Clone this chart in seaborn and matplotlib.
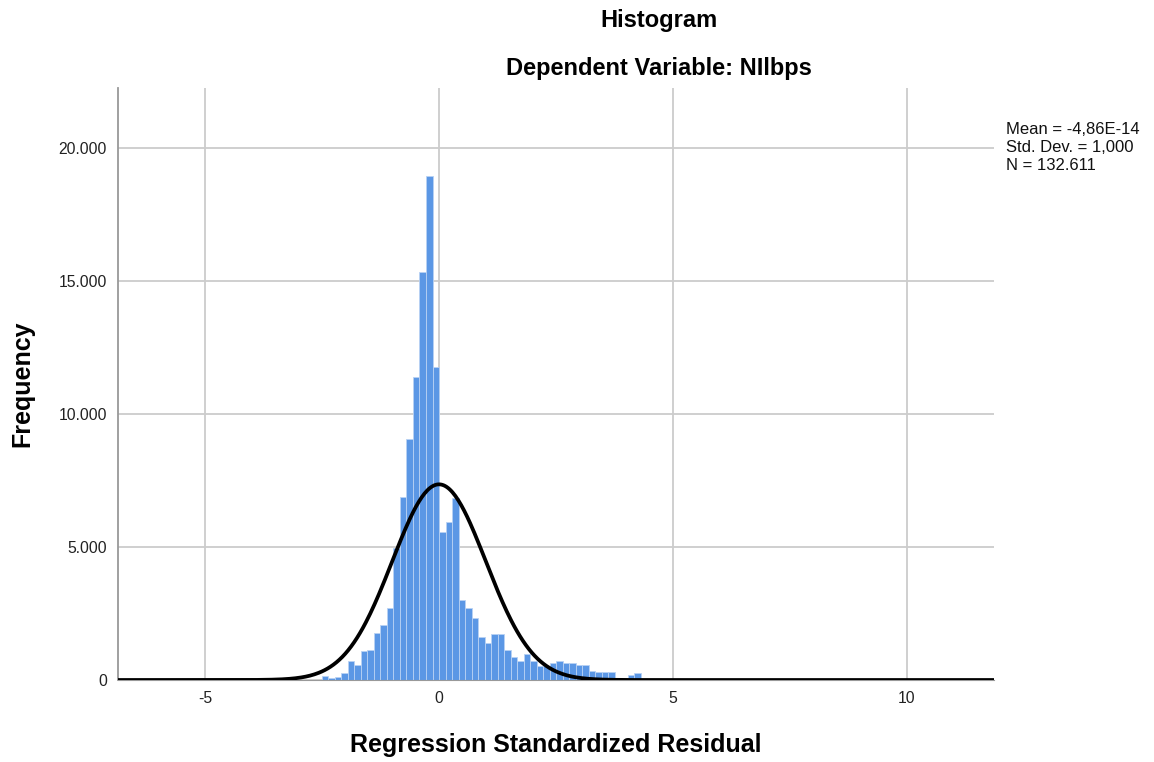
import numpy as np
import pandas as pd
import matplotlib
matplotlib.use("Agg")
import matplotlib.pyplot as plt
from matplotlib.ticker import FuncFormatter
import seaborn as sns

# ── data ─────────────────────────────────────────────────────────────
bin_width = 0.139
first_edge = -18 * bin_width          # left edge of first bar
counts = [140, 85, 125, 275, 730, 580, 1090, 1120, 1750, 2080, 2700, 4960,
          6870, 9050, 11380, 15350, 18960, 11760,
          5550, 5920, 6850, 3010, 2720, 2330, 1610, 1380, 1730, 1730, 1130,
          860, 715, 980, 700, 540, 540, 650, 700, 650, 650, 580, 580, 350,
          290, 310, 290, 0, 0, 200, 250]
res_mean = -4.86e-14
res_sd = 1.0
n_obs = 132611
x_ticks = [-5, 0, 5, 10]
y_ticks = [0, 5000, 10000, 15000, 20000]

sns.set_style("white")
plt.rcParams["font.family"] = ["Liberation Sans", "DejaVu Sans"]
plt.rcParams["axes.unicode_minus"] = False

n_bins = len(counts)
centers = first_edge + bin_width * (np.arange(n_bins) + 0.5)
df = pd.DataFrame({"resid": centers, "count": counts})

fig = plt.figure(figsize=(11.54, 7.62), dpi=100)
ax = fig.add_axes([118 / 1154, 1 - 680 / 762, 876 / 1154, 592 / 762])

ax.grid(True, color="#cccccc", linewidth=1.3, zorder=0)
ax.set_axisbelow(True)

sns.histplot(data=df, x="resid", weights="count", bins=n_bins,
             binrange=(first_edge, first_edge + n_bins * bin_width),
             color="#5b97e5", alpha=1.0, edgecolor="#b8d2f4", linewidth=0.6,
             ax=ax, zorder=2)

# fitted normal curve (SPSS overlay)
xs = np.linspace(-6.9, 11.9, 600)
ys = n_obs * bin_width * np.exp(-0.5 * ((xs - res_mean) / res_sd) ** 2) / (res_sd * np.sqrt(2 * np.pi))
sns.lineplot(x=xs, y=ys, color="black", linewidth=2.7, ax=ax, zorder=3)

ax.set_xlim(-6.86, 11.86)
ax.set_ylim(0, 22250)
ax.set_xticks(x_ticks)
ax.set_yticks(y_ticks)
ax.yaxis.set_major_formatter(FuncFormatter(lambda v, p: f"{v:,.0f}".replace(",", ".")))
ax.tick_params(length=0, labelsize=11.3, colors="#222222", pad=8)

for s in ["top", "right"]:
    ax.spines[s].set_visible(False)
ax.spines["left"].set_color("#999999")
ax.spines["left"].set_linewidth(1.3)
ax.spines["bottom"].set_color("#999999")

ax.set_xlabel("Regression Standardized Residual", fontsize=18, fontweight="bold", color="black")
ax.set_ylabel("Frequency", fontsize=18, fontweight="bold", color="black")
ax.xaxis.set_label_coords(0.5, (680 - 745) / 592)
ax.xaxis.label.set_va("center")
ax.yaxis.set_label_coords((22 - 118) / 876, (680 - 384) / 592)
ax.yaxis.label.set_va("center")

fig.text(0.571, 1 - 20 / 762, "Histogram", ha="center", va="center",
         fontsize=17, fontweight="bold", color="black")
fig.text(0.571, 1 - 68 / 762, "Dependent Variable: NIlbps", ha="center", va="center",
         fontsize=17, fontweight="bold", color="black")

stats_lines = ["Mean = -4,86E-14", "Std. Dev. = 1,000", "N = 132.611"]
for i, line in enumerate(stats_lines):
    fig.text(1006 / 1154, 1 - (130 + 17.5 * i) / 762, line, ha="left", va="center",
             fontsize=12, color="#111111")

plt.savefig("out.png", dpi=100)
plt.close()
